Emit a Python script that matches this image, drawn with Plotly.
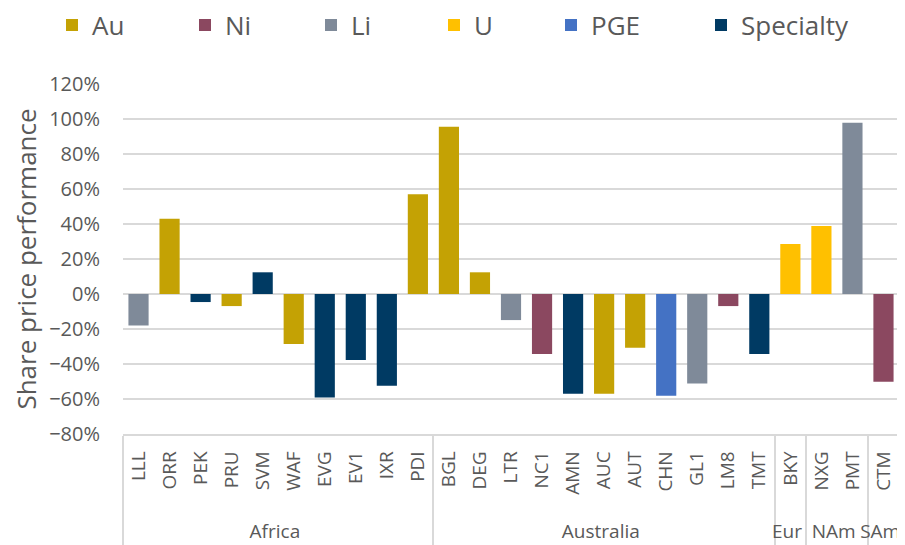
import plotly.graph_objects as go

regions = ["Africa"] * 10 + ["Australia"] * 11 + ["Eur"] + ["NAm"] * 2 + ["SAm"]
tickers = ["LLL", "ORR", "PEK", "PRU", "SVM", "WAF", "EVG", "EV1", "IXR", "PDI",
           "BGL", "DEG", "LTR", "NC1", "AMN", "AUC", "AUT", "CHN", "GL1", "LM8", "TMT",
           "BKY", "NXG", "PMT", "CTM"]
metals = ["Li", "Au", "Specialty", "Au", "Specialty", "Au", "Specialty", "Specialty", "Specialty", "Au",
          "Au", "Au", "Li", "Ni", "Specialty", "Au", "Au", "PGE", "Li", "Ni", "Specialty",
          "U", "U", "Li", "Ni"]
performance = [-18, 43, -4.6, -6.9, 12.4, -28.6, -59.2, -37.7, -52.4, 57,
               95.6, 12.4, -14.9, -34.3, -57, -57, -30.7, -58.1, -51.2, -6.9, -34.3,
               28.6, 38.9, 97.9, -50.1]

legend_order = ["Au", "Ni", "Li", "U", "PGE", "Specialty"]
colors = {"Au": "#C4A204", "Ni": "#8B4860", "Li": "#7F8A99", "U": "#FFC000",
          "PGE": "#4472C4", "Specialty": "#003A63"}

FONT = "Open Sans"
TXT = "#595959"
W, H = 897, 537  # page body adds an 8px margin
legend_x = [44, 177, 303, 426, 543, 693]

# leading no-break spaces push the region row a little lower, as in the original
pad = "\u00a0\u00a0\u00a0"
labels = [pad + t for t in tickers]

fig = go.Figure()
# invisible trace fixing category order
fig.add_trace(go.Bar(x=[regions, labels], y=[None] * len(labels), showlegend=False,
                     hoverinfo="skip", marker_color="rgba(0,0,0,0)"))
legends = {}
for k, m in enumerate(legend_order):
    idx = [i for i, mm in enumerate(metals) if mm == m]
    lname = "legend" if k == 0 else f"legend{k + 1}"
    fig.add_trace(go.Bar(
        x=[[regions[i] for i in idx], [labels[i] for i in idx]],
        y=[performance[i] / 100 for i in idx],
        name=m, legend=lname,
        marker=dict(color=colors[m], line=dict(width=0)),
    ))
    legends[lname] = dict(orientation="h", xref="container", yref="container",
                          x=legend_x[k] / W, y=1 - 17 / H, xanchor="left", yanchor="middle",
                          font=dict(size=26, color=TXT, family=FONT),
                          bgcolor="rgba(0,0,0,0)", itemclick=False)

fig.update_layout(
    width=W, height=H,
    margin=dict(l=115, r=6, t=76, b=111),
    plot_bgcolor="white", paper_bgcolor="white",
    barmode="overlay", bargap=0.35,
    font=dict(family=FONT, color=TXT, size=20),
    showlegend=True,
    **legends,
)
fig.update_yaxes(range=[-0.8, 1.2], dtick=0.2, tickformat=".0%",
                 gridcolor="#D9D9D9", gridwidth=1.5, zeroline=False,
                 showline=False, ticks="", ticklabelstandoff=22,
                 title=dict(text="Share price performance", font=dict(size=26, color=TXT),
                            standoff=16),
                 tickfont=dict(size=20, color=TXT))
fig.update_xaxes(tickangle=-90, tickfont=dict(size=19, color=TXT),
                 showline=True, linecolor="#D9D9D9", linewidth=1.5,
                 showdividers=True, dividercolor="#D9D9D9", dividerwidth=1.5,
                 ticks="", showgrid=False, ticklabelstandoff=8, automargin=False)

fig.write_html("out.html")
